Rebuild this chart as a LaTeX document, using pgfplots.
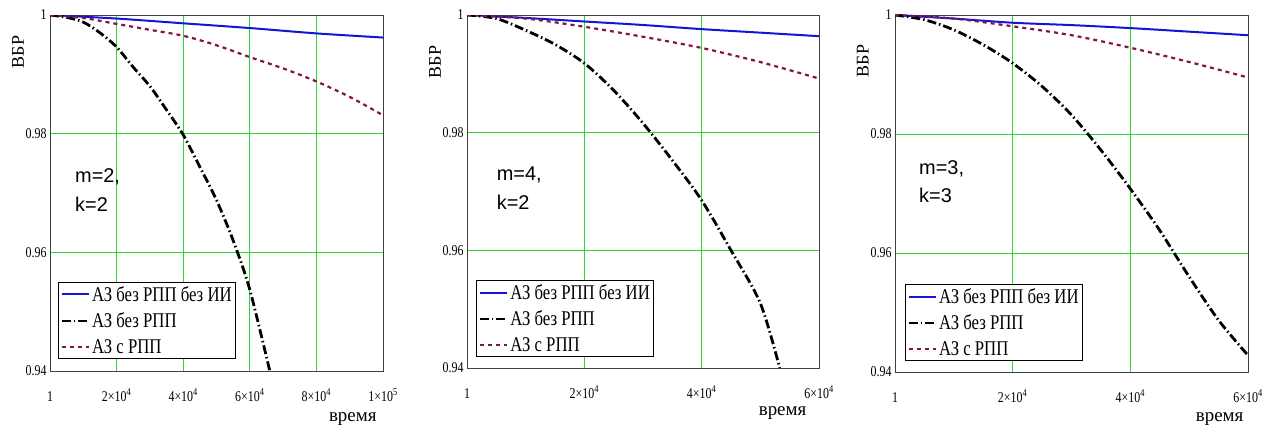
\documentclass[border=0pt]{standalone}
\usepackage{fontspec}
\setmainfont{Liberation Serif}
\newfontfamily\narrow[FakeStretch=0.8]{Liberation Serif}
\newfontfamily\arialfont{Liberation Sans}
\usepackage{pgfplots}
\pgfplotsset{compat=1.18}
\definecolor{gridgreen}{RGB}{45,215,45}
\definecolor{bluecurve}{RGB}{20,20,215}
\definecolor{redcurve}{RGB}{130,20,70}
\pgfplotsset{
  mcad/.style={
    scale only axis,
    axis line style={draw=black!75, line width=0.8bp},
    grid=major, grid style={draw=gridgreen, line width=0.9bp},
    major tick length=0pt,
    scaled x ticks=false, scaled y ticks=false,
    ymin=0.94, ymax=1,
    ytick={0.94,0.96,0.98,1}, yticklabels={0.94,0.96,0.98,1},
    tick label style={font=\narrow\fontsize{15}{17}\selectfont},
    xticklabel style={anchor=base, yshift=-30bp},
    ylabel={ВБР},
    ylabel style={font=\fontsize{18}{20}\selectfont, anchor=center},
    xlabel={время},
    xlabel style={font=\fontsize{19}{21}\selectfont, anchor=east},
    legend style={draw=black, line width=0.8bp, fill=white,
      font=\narrow\fontsize{21}{23}\selectfont,
      inner xsep=2bp, inner ysep=2bp, row sep=6bp, anchor=south west},
    legend cell align=left,
    legend image code/.code={\draw[#1] (0bp,0bp) -- (27bp,0bp);},
    legend entries={АЗ без РПП без ИИ, АЗ без РПП, АЗ с РПП},
  },
  bl/.style={bluecurve, line width=2bp, smooth},
  bk/.style={black, line width=2.8bp, dash pattern=on 9bp off 3bp on 1.5bp off 3bp, smooth},
  rd/.style={redcurve, line width=2.2bp, dash pattern=on 4bp off 4bp, smooth},
}
\begin{document}
\begin{tikzpicture}
\useasboundingbox (0,0) rectangle (1274bp,426bp);
% panel 1: m=2, k=2
\begin{axis}[mcad, at={(50bp,55bp)}, anchor=south west,
  width=333bp, height=356bp,
  xmin=1, xmax=100000,
  xtick={1,20000,40000,60000,80000,100000},
  xticklabels={1, 2×10\textsuperscript{4}, 4×10\textsuperscript{4}, 6×10\textsuperscript{4}, 8×10\textsuperscript{4}, 1×10\textsuperscript{5}},
  ylabel style={at={(axis description cs:-0.096,0.896)}},
  xlabel style={at={(axis description cs:0.991,-0.134)}},
  legend style={at={(rel axis cs:0.024,0.034)}},
]
\addplot[bl] coordinates {(1,1) (20000,0.9994) (40000,0.9986) (60000,0.9978) (80000,0.9969) (100000,0.9962)};
\addplot[bk] coordinates {(1,1) (5000,0.9996) (10000,0.9988) (15000,0.9970) (20000,0.9946) (25000,0.9912) (30000,0.9880) (35000,0.9840) (40000,0.9798) (45000,0.9744) (50000,0.9688) (55000,0.9620) (60000,0.9537) (66000,0.9400)};
\addplot[rd] coordinates {(1,1) (10000,0.9995) (20000,0.9985) (30000,0.9975) (40000,0.9965) (50000,0.9949) (60000,0.9929) (70000,0.9910) (80000,0.9888) (90000,0.9862) (100000,0.9831)};
\node[anchor=north west, align=left, inner sep=0pt, font=\arialfont\fontsize{20}{29}\selectfont] at (axis cs:7500,0.9742) {m=2,\\k=2};
\end{axis}
% panel 2: m=4, k=2
\begin{axis}[mcad, at={(467bp,58bp)}, anchor=south west,
  width=352bp, height=353bp,
  xmin=1, xmax=60000,
  xtick={1,20000,40000,60000},
  xticklabels={1, 2×10\textsuperscript{4}, 4×10\textsuperscript{4}, 6×10\textsuperscript{4}},
  ylabel style={at={(axis description cs:-0.091,0.867)}},
  xlabel style={at={(axis description cs:0.974,-0.128)}},
  legend style={at={(rel axis cs:0.026,0.031)}},
]
\addplot[bl] coordinates {(1,1) (10000,0.9995) (20000,0.9989) (30000,0.9983) (40000,0.9976) (50000,0.9970) (60000,0.9964)};
\addplot[bk] coordinates {(1,1) (5000,0.9994) (10000,0.9974) (15000,0.9950) (20000,0.9918) (25000,0.9872) (30000,0.9816) (35000,0.9753) (40000,0.9685) (45000,0.9600) (50000,0.9510) (53300,0.9400)};
\addplot[rd] coordinates {(1,1) (10000,0.9994) (20000,0.9980) (30000,0.9963) (40000,0.9944) (50000,0.9920) (60000,0.9892)};
\node[anchor=north west, align=left, inner sep=0pt, font=\arialfont\fontsize{20}{29}\selectfont] at (axis cs:5060,0.9743) {m=4,\\k=2};
\end{axis}
% panel 3: m=3, k=3
\begin{axis}[mcad, at={(895bp,54bp)}, anchor=south west,
  width=353bp, height=357bp,
  xmin=1, xmax=60000,
  xtick={1,20000,40000,60000},
  xticklabels={1, 2×10\textsuperscript{4}, 4×10\textsuperscript{4}, 6×10\textsuperscript{4}},
  ylabel style={at={(axis description cs:-0.091,0.871)}},
  xlabel style={at={(axis description cs:0.997,-0.131)}},
  legend style={at={(rel axis cs:0.028,0.031)}},
]
\addplot[bl] coordinates {(1,1) (10000,0.9994) (20000,0.9987) (30000,0.9983) (40000,0.9978) (50000,0.9972) (60000,0.9966)};
\addplot[bk] coordinates {(1,1) (5000,0.9992) (10000,0.9975) (15000,0.9950) (20000,0.9919) (25000,0.9880) (30000,0.9832) (35000,0.9773) (40000,0.9708) (45000,0.9638) (50000,0.9560) (55000,0.9487) (60000,0.9428)};
\addplot[rd] coordinates {(1,1) (10000,0.9994) (20000,0.9981) (30000,0.9966) (40000,0.9945) (50000,0.9921) (60000,0.9895)};
\node[anchor=north west, align=left, inner sep=0pt, font=\arialfont\fontsize{20}{28}\selectfont] at (axis cs:4080,0.9756) {m=3,\\k=3};
\end{axis}
\end{tikzpicture}
\end{document}
